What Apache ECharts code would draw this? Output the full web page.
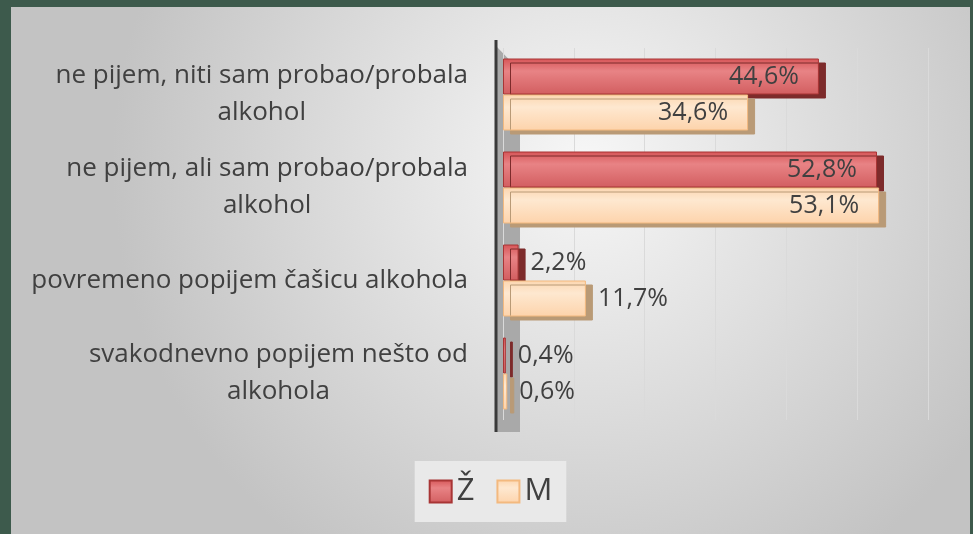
<!DOCTYPE html>
<html>
<head>
<meta charset="utf-8">
<script src="https://cdn.jsdelivr.net/npm/echarts@6/dist/echarts.min.js"></script>
<style>
html,body{margin:0;padding:0;background:#3d5a4c;width:973px;height:534px;overflow:hidden;}
#c{position:absolute;left:11px;top:7px;width:959px;height:527px;}
</style>
</head>
<body>
<div id="c"></div>
<script>
const categories = [
  'ne pijem, niti sam probao/probala\nalkohol',
  'ne pijem, ali sam probao/probala\nalkohol',
  'povremeno popijem čašicu alkohola',
  'svakodnevno popijem nešto od\nalkohola'
];
const seriesNames = ['Ž', 'M'];
const valuesZ = [44.6, 52.8, 2.2, 0.4];
const valuesM = [34.6, 53.1, 11.7, 0.6];

const chart = echarts.init(document.getElementById('c'));
const fmt = v => v.toFixed(1).replace('.', ',') + '%';

function labelFor(v) {
  return v > 20
    ? { show: true, position: 'insideRight', distance: 20, formatter: p => fmt(p.value), fontSize: 25, color: '#404040', fontFamily: 'Open Sans' }
    : { show: true, position: 'right', distance: 12, formatter: p => fmt(p.value), fontSize: 25, color: '#404040', fontFamily: 'Open Sans' };
}

const zStyle = {
  color: { type: 'linear', x: 0, y: 0, x2: 0, y2: 1, colorStops: [
    { offset: 0, color: '#d65557' }, { offset: 0.35, color: '#e88385' }, { offset: 1, color: '#d25e60' }] },
  borderColor: '#a83535', borderWidth: 1,
  shadowColor: '#7d2b2b', shadowOffsetX: 7, shadowOffsetY: 4, shadowBlur: 0
};
const mStyle = {
  color: { type: 'linear', x: 0, y: 0, x2: 0, y2: 1, colorStops: [
    { offset: 0, color: '#fcd6b0' }, { offset: 0.35, color: '#fee8d0' }, { offset: 1, color: '#fdd3ab' }] },
  borderColor: '#f3b97f', borderWidth: 1,
  shadowColor: '#b99a76', shadowOffsetX: 7, shadowOffsetY: 4, shadowBlur: 0
};

chart.setOption({
  backgroundColor: {
    type: 'radial', x: 0.6, y: 0.3, r: 0.9,
    colorStops: [{ offset: 0, color: '#f7f7f7' }, { offset: 1, color: '#c3c3c3' }]
  },
  animation: false,
  grid: { left: 492, right: 42, top: 41, bottom: 114 },
  xAxis: {
    type: 'value', min: 0, max: 60, interval: 10,
    axisLabel: { show: false }, axisLine: { show: false }, axisTick: { show: false },
    splitLine: { show: true, lineStyle: { color: '#dadada', width: 1 } }
  },
  yAxis: {
    type: 'category', data: categories, inverse: true,
    axisLine: { show: false }, axisTick: { show: false },
    axisLabel: {
      margin: 35, align: 'right',
      formatter: v => v.split('\n').map(s => '{c|' + s + '}').join('\n'),
      rich: { c: { align: 'center', fontSize: 26, lineHeight: 37, color: '#404040', fontFamily: 'Open Sans' } }
    }
  },
  legend: {
    data: seriesNames, bottom: 12, left: 'center',
    backgroundColor: '#e9e9e9', padding: [15, 14],
    itemWidth: 22, itemHeight: 22, itemGap: 22,
    textStyle: { fontSize: 31, color: '#404040', fontFamily: 'Open Sans' },
    icon: 'rect'
  },
  graphic: [
    { type: 'polygon', shape: { points: [[486, 40], [509, 64], [509, 425], [486, 425]] }, style: { fill: '#a9a9a9' }, silent: true },
    { type: 'line', shape: { x1: 485, y1: 33, x2: 485, y2: 425 }, style: { stroke: '#3a3a3a', lineWidth: 3 }, silent: true }
  ],
  series: [
    {
      name: seriesNames[0], type: 'bar', barWidth: 36, barGap: '0%',
      itemStyle: zStyle,
      data: valuesZ.map(v => ({ value: v, label: labelFor(v) }))
    },
    {
      name: seriesNames[1], type: 'bar', barWidth: 36, barGap: '0%',
      itemStyle: mStyle,
      data: valuesM.map(v => ({ value: v, label: labelFor(v) }))
    }
  ]
});
</script>
</body>
</html>
